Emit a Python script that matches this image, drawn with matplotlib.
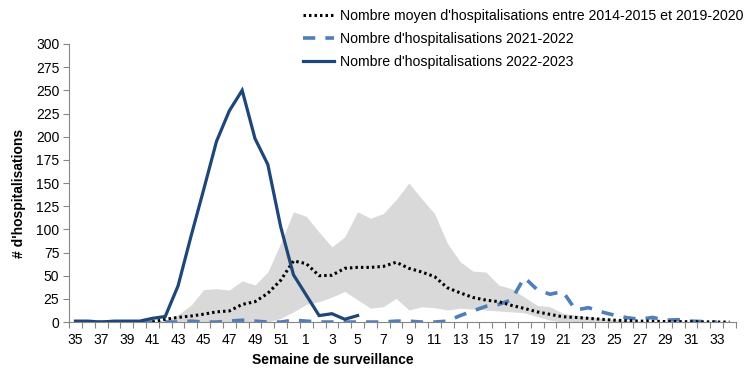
import numpy as np
import matplotlib.pyplot as plt

plt.rcParams['font.family'] = ['Liberation Sans', 'DejaVu Sans']

# surveillance weeks 35..52 then 1..34
weeks = list(range(35, 53)) + list(range(1, 35))
nan = np.nan

# 2022-2023 (stops at week 5)
hosp_2022 = [1, 1, 0, 1, 1, 1, 4, 6, 39, 92, 143, 195, 228, 250, 198, 170, 103, 51,
             29, 7, 9, 3, 7]

# 2021-2022
hosp_2021 = [0, 0, 0, 0, 0, 0, 0, 0, 0, 1, 0, 0, 1, 2, 1, 0, 0, 2,
             1, 0, 0, 0, 0, 0, 0, 1, 1, 0, 0, 1, 7, 12, 17, 19, 24, 48, 35, 30, 33,
             13, 15.5, 11, 7.5, 4.7, 3, 5, 2, 2.5, 1, 0.5, 0]

# mean 2014-2015 to 2019-2020 (starts at week 41)
mean_hist = [nan] * 6 + [0, 3, 5, 6.5, 8.5, 11, 12, 19, 22, 31, 45, 66,
             63, 50, 50.5, 58, 59, 59, 60, 64.5, 58, 54, 49, 37, 31.5, 26.5, 23.7, 22,
             18, 14.7, 11, 8.3, 5.7, 5, 4, 3, 2, 1.5, 1, 1, 0.5, 0.5, 0.3, 0.3, 0, 0]

# min / max band of past seasons
band_high = [nan] * 6 + [0, 2, 8, 18, 35, 36, 34.5, 44.5, 40, 54, 85, 119,
             114, 97, 81, 92, 119, 112, 117, 132, 150, 133, 117, 85, 65, 55, 54, 40,
             36, 27, 18, 16.5, 9.5, 7.5, 6, 4, 3, 2, 1, 0.5, 0, 0, 0, 0, 0, 0]
band_low = [nan] * 6 + [0, 0, 0, 0, 0, 0, 0, 0, 0, 0, 4, 11,
            19, 22, 27, 33, 24, 15, 16.5, 25.5, 13, 16.5, 15.5, 13, 15, 14, 13, 12,
            11, 10, 6, 2, 0, 0, 0, 0, 0, 0, 0, 0, 0, 0, 0, 0, 0, 0]

x = np.arange(len(weeks))

fig = plt.figure(figsize=(7.56, 3.78), dpi=100)
ax = fig.add_axes([0.0913, 0.148, 0.8822, 0.7356])

ax.fill_between(x, band_low, band_high, color="#d9d9d9", linewidth=0, zorder=1)
ax.plot(x, mean_hist, color="black", lw=2.2, linestyle=(0, (0.8, 1.0)),
        dash_capstyle="butt", zorder=3,
        label="Nombre moyen d'hospitalisations entre 2014-2015 et 2019-2020")
ax.plot(x[:len(hosp_2021)], hosp_2021, color="#4f7fba", lw=2.6,
        linestyle=(0, (3.4, 2.8)), zorder=2,
        label="Nombre d'hospitalisations 2021-2022")
ax.plot(x[:len(hosp_2022)], hosp_2022, color="#1f4679", lw=2.3, zorder=4,
        solid_joinstyle="miter",
        label="Nombre d'hospitalisations 2022-2023")

ax.set_xlim(-0.5, len(weeks) - 0.5)
ax.set_ylim(0, 300)
ax.set_yticks(range(0, 301, 25))
ax.set_xticks(x[::2])
ax.set_xticklabels([str(w) for w in weeks[::2]])
ax.set_xticks(np.arange(-0.5, len(weeks), 1), minor=True)
ax.tick_params(axis="x", which="major", length=0, pad=8, labelsize=10)
ax.tick_params(axis="x", which="minor", length=4, color="#868686", width=0.8)
ax.tick_params(axis="y", length=4, color="#868686", width=0.8, labelsize=10, pad=3)

for s in ["top", "right"]:
    ax.spines[s].set_visible(False)
for s in ["left", "bottom"]:
    ax.spines[s].set_color("#868686")
    ax.spines[s].set_linewidth(0.8)

ax.set_xlabel("Semaine de surveillance", fontweight="bold", fontsize=10)
ax.xaxis.set_label_coords(0.396, -0.11)
ax.set_ylabel("# d'hospitalisations", fontweight="bold", fontsize=10)
ax.yaxis.set_label_coords(-0.065, 0.464)

ax.legend(loc="upper left", bbox_to_anchor=(0.393, 0.99), bbox_transform=fig.transFigure,
          frameon=False, fontsize=10.15, handlelength=2.2, handletextpad=0.45,
          labelspacing=0.62, borderaxespad=0)

fig.savefig("out.png", dpi=100)
